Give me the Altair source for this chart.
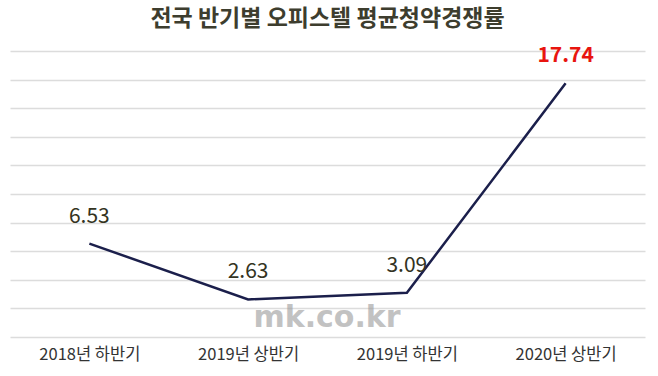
import altair as alt
import pandas as pd

periods = ["2018년 하반기", "2019년 상반기", "2019년 하반기", "2020년 상반기"]
values = [6.53, 2.63, 3.09, 17.74]
label_colors = ["#333322", "#333322", "#333322", "#e8150f"]
label_weights = ["normal", "normal", "normal", "bold"]
title_text = "전국 반기별 오피스텔 평균청약경쟁률"
watermark = "mk.co.kr"
grid_values = [0, 2, 4, 6, 8, 10, 12, 14, 16, 18, 20]

df = pd.DataFrame({"period": periods, "value": values, "lc": label_colors,
                   "lw": label_weights,
                   "label": [f"{v:.2f}" for v in values]})

FONT = "Noto Sans CJK KR"

x = alt.X("period:N", sort=periods, title=None,
          scale=alt.Scale(padding=0.5),
          axis=alt.Axis(labelAngle=0, domain=False, ticks=False, grid=False, labelPadding=9,
                        labelFontSize=16.5, labelColor="#333333", labelFont=FONT))
y = alt.Y("value:Q", title=None,
          scale=alt.Scale(domain=[0, 20], nice=False),
          axis=alt.Axis(values=grid_values, labels=False, domain=False,
                        ticks=False, grid=True, gridColor="#dcdcdc", gridWidth=1.5))

base = alt.Chart(df).encode(x=x, y=y)
line = base.mark_line(color="#1b1f4b", strokeWidth=2.5)
text_normal = base.transform_filter(alt.datum.lw == "normal").mark_text(
    dy=-27, fontSize=21, font=FONT).encode(
    text="label:N", color=alt.Color("lc:N", scale=None))
text_bold = base.transform_filter(alt.datum.lw == "bold").mark_text(
    dy=-27, fontSize=21, font=FONT, fontWeight="bold").encode(
    text="label:N", color=alt.Color("lc:N", scale=None))
wm = alt.Chart(pd.DataFrame({"t": [watermark]})).mark_text(
    fontSize=30, fontWeight="bold", font="DejaVu Sans", color="#9a9a9a", opacity=0.6
).encode(text="t:N", x=alt.value(317), y=alt.value(267))

chart = alt.layer(line, text_normal, text_bold, wm).properties(
    width=635, height=286,
    background="white",
    title=alt.TitleParams(title_text, fontSize=23, font=FONT, fontWeight="bold",
                          color="#3d3d2e", anchor="middle", offset=14),
    autosize=alt.AutoSizeParams(type="none"),
    padding={"left": 10, "top": 51, "right": 13, "bottom": 39},
).configure_view(strokeWidth=0, stroke="transparent")

chart.save("out.html", embed_options={"renderer": "svg", "actions": False})
